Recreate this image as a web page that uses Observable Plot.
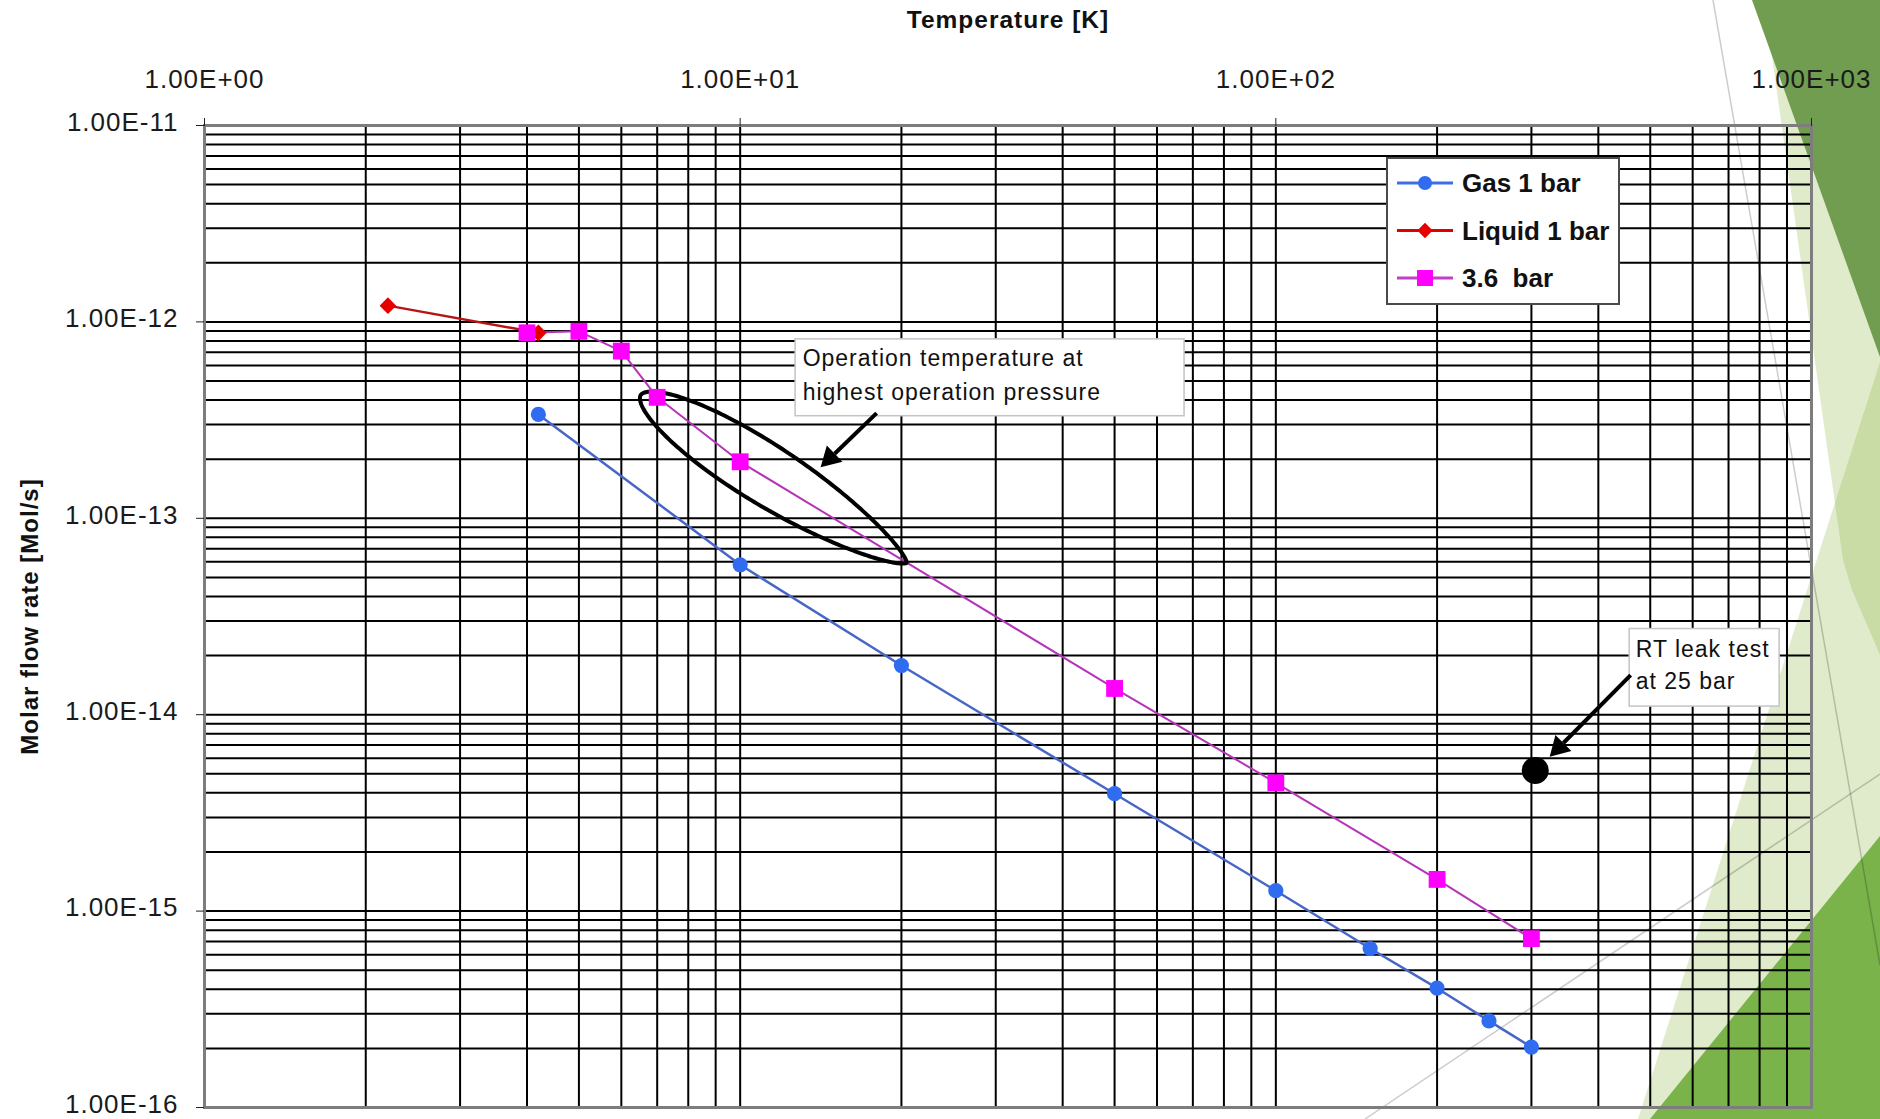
<!DOCTYPE html>
<html>
<head>
<meta charset="utf-8">
<script src="https://cdn.jsdelivr.net/npm/d3@7"></script>
<script src="https://cdn.jsdelivr.net/npm/@observablehq/plot@0.6"></script>
<style>
html, body { margin: 0; padding: 0; background: #fff; overflow: hidden; }
#wrap { position: relative; width: 1880px; height: 1119px; }
#bg, #chart, #legend { position: absolute; left: 0; top: 0; }
#legend { left: 1385px; top: 156px; }
</style>
</head>
<body>
<div id="wrap">
  <svg id="bg" width="1880" height="1119"></svg>
  <div id="chart"></div>
  <svg id="legend" width="238" height="152"></svg>
</div>
<script>
// ---------- data ----------
const seriesLabels = ["Gas 1 bar", "Liquid 1 bar", "3.6  bar"];

const gasT = [4.2, 10, 20, 50, 100, 150, 200, 250, 300];
const gasF = [3.38e-13, 5.8e-14, 1.78e-14, 3.96e-15, 1.27e-15, 6.45e-16, 4.05e-16, 2.76e-16, 2.03e-16];

const liquidT = [2.2, 4.2];
const liquidF = [1.21e-12, 8.8e-13];

const p36T = [4, 5, 6, 7, 10, 50, 100, 200, 300];
const p36F = [8.8e-13, 8.95e-13, 7.1e-13, 4.13e-13, 1.94e-13, 1.36e-14, 4.5e-15, 1.45e-15, 7.24e-16];

const rtT = [305];
const rtF = [5.2e-15];

// ticks
const xMajor = [1, 10, 100, 1000];
const xLabels = ["1.00E+00", "1.00E+01", "1.00E+02", "1.00E+03"];
const yMajor = [1e-11, 1e-12, 1e-13, 1e-14, 1e-15, 1e-16];
const yLabels = ["1.00E-11", "1.00E-12", "1.00E-13", "1.00E-14", "1.00E-15", "1.00E-16"];
const multiples = [1, 2, 3, 4, 5, 6, 7, 8, 9];
const xDecades = [1, 10, 100];
const yDecades = [1e-16, 1e-15, 1e-14, 1e-13, 1e-12];

const xTitle = "Temperature [K]";
const yTitle = "Molar flow rate [Mol/s]";

// annotations (data-space anchors)
const noteText1 = "Operation temperature at\nhighest operation pressure";
const noteText2 = "RT leak test\nat 25 bar";
const noteBox1 = [{x1: 12.69, x2: 67.55, y1: 8.15e-13, y2: 3.31e-13, tx: 13.08, ty: 5.57e-13}];
const noteBox2 = [{x1: 457.7, x2: 872, y1: 2.73e-14, y2: 1.10e-14, tx: 469.7, ty: 1.845e-14}];
const arrows = [
  {x1: 17.98, y1: 3.43e-13, x2: 14.13, y2: 1.82e-13},
  {x1: 459.6, y1: 1.59e-14, x2: 324.5, y2: 6.1e-15}
];
const ellipseSpec = {from: [6.52, 4.24e-13], to: [20.45, 5.93e-14], halfWidth: 30};

// ---------- derived tables ----------
const gas = gasT.map((T, i) => ({T, F: gasF[i]}));
const liquid = liquidT.map((T, i) => ({T, F: liquidF[i]}));
const p36 = p36T.map((T, i) => ({T, F: p36F[i]}));
const rt = rtT.map((T, i) => ({T, F: rtF[i]}));
const xGrid = xDecades.flatMap(d => multiples.map(m => m * d)).concat([1000]);
const yGrid = yDecades.flatMap(d => multiples.map(m => m * d)).concat([1e-11]);

const colors = {
  gasLine: "#4766c6", gasDot: "#2f6cf0",
  liqLine: "#b81414", liqDot: "#e60000",
  p36Line: "#b534b8", p36Dot: "#ff00ff"
};

function build(extra) {
  return Plot.plot({
    width: 1880, height: 1119,
    marginLeft: 204, marginRight: 69, marginTop: 125, marginBottom: 12,
    style: {background: "transparent", fontFamily: "'Liberation Sans', Arial, sans-serif", fontSize: "26px", color: "#1a1a1a", letterSpacing: "1px", overflow: "visible"},
    x: {type: "log", domain: [1, 1000], axis: null},
    y: {type: "log", domain: [1e-16, 1e-11], axis: null},
    marks: [
      Plot.gridX(xGrid, {stroke: "#000", strokeOpacity: 1, strokeWidth: 2}),
      Plot.gridY(yGrid, {stroke: "#000", strokeOpacity: 1, strokeWidth: 2}),
      Plot.frame({stroke: "#7d7d7d", strokeWidth: 3}),
      Plot.axisX(xMajor, {anchor: "top", tickSize: 8, tickPadding: 30, stroke: "#222", label: null,
        tickFormat: d => xLabels[xMajor.indexOf(d)]}),
      Plot.axisY(yMajor, {anchor: "left", tickSize: 8, stroke: "#222", label: null, text: null}),
      Plot.axisY(yMajor, {anchor: "left", tickSize: 0, tickPadding: 26, label: null, dy: -3,
        tickFormat: d => yLabels[yMajor.indexOf(d)]}),
      Plot.text([xTitle], {frameAnchor: "top", dy: -105, textAnchor: "middle", lineAnchor: "middle", text: d => d, fontWeight: "bold", fontSize: 24.5, fill: "#111"}),
      Plot.text([yTitle], {frameAnchor: "left", dx: -174, rotate: -90, textAnchor: "middle", lineAnchor: "middle", text: d => d, fontWeight: "bold", fontSize: 24, fill: "#111"}),
      // annotation boxes
      Plot.rect(noteBox1, {x1: "x1", x2: "x2", y1: "y1", y2: "y2", fill: "white", stroke: "#c4c4c4", strokeWidth: 1.5}),
      Plot.text(noteBox1, {x: "tx", y: "ty", text: () => noteText1, textAnchor: "start", lineAnchor: "middle", lineHeight: 1.52, fontSize: 23, fill: "#111"}),
      Plot.rect(noteBox2, {x1: "x1", x2: "x2", y1: "y1", y2: "y2", fill: "white", stroke: "#c4c4c4", strokeWidth: 1.5}),
      Plot.text(noteBox2, {x: "tx", y: "ty", text: () => noteText2, textAnchor: "start", lineAnchor: "middle", lineHeight: 1.43, fontSize: 23, fill: "#111"}),
      // series lines
      Plot.line(gas, {x: "T", y: "F", stroke: colors.gasLine, strokeWidth: 2.5}),
      Plot.line(liquid, {x: "T", y: "F", stroke: colors.liqLine, strokeWidth: 2.5}),
      Plot.line(p36, {x: "T", y: "F", stroke: colors.p36Line, strokeWidth: 2}),
      ...extra,
      // markers
      Plot.dot(gas, {x: "T", y: "F", r: 7.6, symbol: "circle", fill: colors.gasDot, stroke: "none"}),
      Plot.dot(liquid, {x: "T", y: "F", r: 7.5, symbol: "diamond2", fill: colors.liqDot, stroke: "none"}),
      Plot.dot(p36, {x: "T", y: "F", r: 9.5, symbol: "square", fill: colors.p36Dot, stroke: "none"}),
      Plot.dot(rt, {x: "T", y: "F", r: 13.5, symbol: "circle", fill: "#000", stroke: "none"})
    ]
  });
}

// first pass to obtain scales for the hand-drawn annotation shapes
const p0 = build([]);
const sx = p0.scale("x"), sy = p0.scale("y");
function ellipsePoints() {
  const ax = sx.apply(ellipseSpec.from[0]), ay = sy.apply(ellipseSpec.from[1]);
  const bx = sx.apply(ellipseSpec.to[0]), by = sy.apply(ellipseSpec.to[1]);
  const dx = bx - ax, dy = by - ay, L = Math.hypot(dx, dy);
  const ux = dx / L, uy = dy / L, nx = -uy, ny = ux;
  const shape0 = t => Math.pow(t, 0.55) * Math.pow(1 - t, 0.7);
  let mx = 0; for (let i = 0; i <= 200; i++) mx = Math.max(mx, shape0(i / 200));
  const shape = t => ellipseSpec.halfWidth * shape0(t) / mx;
  const N = 120, pts = [];
  for (let i = 0; i <= N; i++) {
    const t = 0.5 - 0.5 * Math.cos(Math.PI * i / N), h = shape(t);
    pts.push([ax + ux * L * t + nx * h, ay + uy * L * t + ny * h]);
  }
  for (let i = N; i >= 0; i--) {
    const t = 0.5 - 0.5 * Math.cos(Math.PI * i / N), h = shape(t);
    pts.push([ax + ux * L * t - nx * h, ay + uy * L * t - ny * h]);
  }
  return pts.map(([px, py]) => ({T: sx.invert(px), F: sy.invert(py)}));
}
const ellipse = ellipsePoints();

// arrow shafts end at the base of a filled triangular head
const headHalf = 6.5;
const shafts = [], heads = [];
arrows.forEach(a => {
  const x1 = sx.apply(a.x1), y1 = sy.apply(a.y1), x2 = sx.apply(a.x2), y2 = sy.apply(a.y2);
  const L = Math.hypot(x2 - x1, y2 - y1), ux = (x2 - x1) / L, uy = (y2 - y1) / L;
  const cx = x2 - ux * 2 * headHalf, cy = y2 - uy * 2 * headHalf;
  const bx = x2 - ux * 3 * headHalf, by = y2 - uy * 3 * headHalf;
  shafts.push({x1: a.x1, y1: a.y1, x2: sx.invert(bx), y2: sy.invert(by)});
  heads.push({T: sx.invert(cx), F: sy.invert(cy), angle: Math.atan2(ux, -uy) * 180 / Math.PI});
});
const headR = Math.sqrt(3 * Math.sqrt(3) * headHalf * headHalf / Math.PI);

const chart = build([
  Plot.line(ellipse, {x: "T", y: "F", stroke: "#000", strokeWidth: 4, strokeLinejoin: "round"}),
  Plot.link(shafts, {x1: "x1", y1: "y1", x2: "x2", y2: "y2", stroke: "#000", strokeWidth: 4}),
  Plot.dot(heads, {x: "T", y: "F", symbol: "triangle", r: headR, rotate: "angle", fill: "#000", stroke: "none"})
]);
document.getElementById("chart").appendChild(chart);

// ---------- legend ----------
const legendItems = [
  {label: seriesLabels[0], line: "#3d6ee6", fill: colors.gasDot, sym: d3.symbolCircle, size: Math.PI * 7 * 7},
  {label: seriesLabels[1], line: "#e00000", fill: colors.liqDot, sym: d3.symbolDiamond2, size: 150},
  {label: seriesLabels[2], line: "#c040c8", fill: colors.p36Dot, sym: d3.symbolSquare, size: 256}
];
const lg = d3.select("#legend");
lg.append("rect").attr("x", 2).attr("y", 2).attr("width", 232).attr("height", 146)
  .attr("fill", "#fff").attr("stroke", "#4a4a4a").attr("stroke-width", 2);
legendItems.forEach((it, i) => {
  const cy = 27 + i * 47.5;
  lg.append("line").attr("x1", 12).attr("x2", 68).attr("y1", cy).attr("y2", cy)
    .attr("stroke", it.line).attr("stroke-width", 3);
  lg.append("path").attr("d", d3.symbol(it.sym, it.size)()).attr("transform", `translate(40,${cy})`)
    .attr("fill", it.fill);
  lg.append("text").attr("x", 77).attr("y", cy).attr("dy", "0.36em")
    .attr("font-family", "'Liberation Sans', Arial, sans-serif").attr("font-weight", "bold")
    .attr("font-size", 26).attr("fill", "#111")
    .style("white-space", "pre").text(it.label);
});

// ---------- slide theme decoration (background) ----------
const themeShapes = [
  {fill: "rgba(142,182,62,0.27)", pts: [[1764, 0], [1843, 560], [1852, 590], [1880, 655], [1880, 0]]},
  {fill: "rgba(142,182,62,0.27)", pts: [[1880, 362], [1638, 1119], [1880, 1119]]},
  {fill: "#7ab34a", pts: [[1880, 836], [1650, 1119], [1880, 1119]]},
  {fill: "#709d50", pts: [[1752, 0], [1880, 0], [1880, 357]]}
];
const themeLines = [[[1713, 0], [1880, 965]], [[1365, 1119], [1880, 774]]];
const bg = d3.select("#bg");
themeShapes.forEach(s => bg.append("polygon").attr("points", s.pts.map(p => p.join(",")).join(" ")).attr("fill", s.fill));
themeLines.forEach(l => bg.append("line").attr("x1", l[0][0]).attr("y1", l[0][1]).attr("x2", l[1][0]).attr("y2", l[1][1])
  .attr("stroke", "rgba(0,0,0,0.2)").attr("stroke-width", 1.5));
</script>
</body>
</html>
